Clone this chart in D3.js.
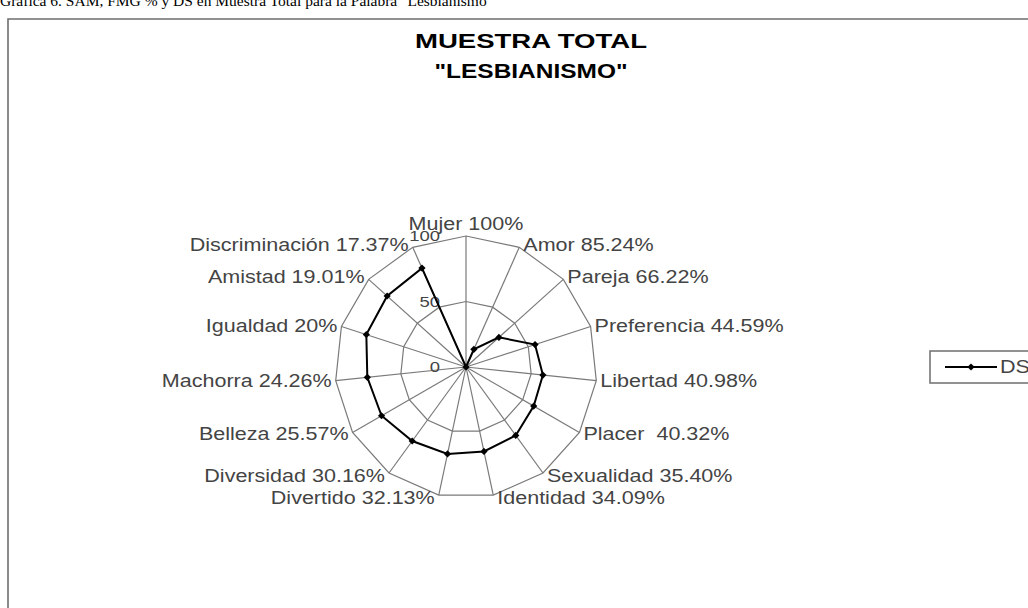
<!DOCTYPE html>
<html>
<head>
<meta charset="utf-8">
<script src="https://cdn.jsdelivr.net/npm/d3@7"></script>
<style>
  html, body { margin: 0; padding: 0; background: #fff; }
  svg { display: block; }
</style>
</head>
<body>
<svg id="chart"></svg>
<script>
// categorias y FMG % (etiquetas), DS (serie dibujada)
const words = ["Mujer", "Amor", "Pareja", "Preferencia", "Libertad", "Placer ", "Sexualidad",
  "Identidad", "Divertido", "Diversidad", "Belleza", "Machorra", "Igualdad", "Amistad", "Discriminación"];
const fmgLabels = ["100%", "85.24%", "66.22%", "44.59%", "40.98%", "40.32%", "35.40%",
  "34.09%", "32.13%", "30.16%", "25.57%", "24.26%", "20%", "19.01%", "17.37%"];
const dsValues = [0, 14.76, 33.78, 55.41, 59.02, 59.68, 64.6, 65.91, 67.87, 69.84, 74.43, 75.74, 80, 80.99, 82.63];
const ticks = [0, 50, 100];

const width = 1028, height = 608;
const cx = 466, cy = 367, R = 131;
const STRETCH = 1.23;

const svg = d3.select("#chart").attr("width", width).attr("height", height);

// caption cut off at the top of the page
svg.append("text")
  .attr("x", 0).attr("y", 6)
  .style("font-family", "'Liberation Serif', 'Times New Roman', serif")
  .style("font-size", "15.5px")
  .attr("fill", "#000")
  .text('Gráfica 6. SAM, FMG % y DS en Muestra Total para la Palabra "Lesbianismo"');

// chart frame
svg.append("path")
  .attr("d", `M8,${height} V19 H${width}`)
  .attr("fill", "none")
  .attr("stroke", "#6e6e6e")
  .attr("stroke-width", 1.6);

// title
const titleLines = [["MUESTRA TOTAL", 48, 232], ['"LESBIANISMO"', 78, 193]];
titleLines.forEach(function (t) {
  svg.append("text")
    .attr("x", 531).attr("y", t[1])
    .attr("text-anchor", "middle")
    .attr("textLength", t[2])
    .attr("lengthAdjust", "spacingAndGlyphs")
    .style("font-family", "'Liberation Sans', Arial, sans-serif")
    .style("font-size", "21px")
    .style("font-weight", "bold")
    .attr("fill", "#000")
    .text(t[0]);
});

const r = d3.scaleLinear().domain([0, 100]).range([0, R]);
const angle = d3.scaleLinear().domain([0, words.length]).range([0, 2 * Math.PI]);

function pt(i, v) {
  const a = angle(i);
  return [cx + r(v) * Math.sin(a), cy - r(v) * Math.cos(a)];
}

function stretchText(sel) {
  sel.each(function () {
    const w = this.getComputedTextLength();
    d3.select(this).attr("textLength", w * STRETCH).attr("lengthAdjust", "spacingAndGlyphs");
  });
}

const grid = svg.append("g");

// rings
ticks.filter(t => t > 0).forEach(function (t) {
  const pts = words.map((w, i) => pt(i, t));
  grid.append("polygon")
    .attr("points", pts.map(p => p.join(",")).join(" "))
    .attr("fill", "none")
    .attr("stroke", "#7a7a7a")
    .attr("stroke-width", 1.2);
});

// spokes
grid.selectAll("line.spoke")
  .data(words)
  .join("line")
  .attr("class", "spoke")
  .attr("x1", cx).attr("y1", cy)
  .attr("x2", (d, i) => pt(i, 100)[0])
  .attr("y2", (d, i) => pt(i, 100)[1])
  .attr("stroke", "#7a7a7a")
  .attr("stroke-width", 1.2);

// tick labels along the first axis
svg.selectAll("text.tick")
  .data(ticks)
  .join("text")
  .attr("class", "tick")
  .attr("x", cx - 26)
  .attr("y", d => cy - r(d))
  .attr("dy", "0.35em")
  .attr("text-anchor", "end")
  .style("font-family", "'Liberation Sans', Arial, sans-serif")
  .style("font-size", "15px")
  .attr("fill", "#444")
  .text(d => d)
  .call(stretchText);

// category labels
svg.selectAll("text.cat")
  .data(words)
  .join("text")
  .attr("class", "cat")
  .attr("x", function (d, i) {
    const a = angle(i);
    const p = pt(i, 100);
    if (i === 0) return p[0];
    return p[0] + (Math.sin(a) > 0 ? 4 : -4);
  })
  .attr("y", function (d, i) {
    const a = angle(i);
    const p = pt(i, 100);
    if (i === 0) return p[1] - 12;
    return p[1] - 3 * Math.cos(a);
  })
  .attr("dy", "0.35em")
  .attr("text-anchor", function (d, i) {
    if (i === 0) return "middle";
    return Math.sin(angle(i)) > 0 ? "start" : "end";
  })
  .style("font-family", "'Liberation Sans', Arial, sans-serif")
  .style("font-size", "17.5px")
  .style("white-space", "pre")
  .attr("fill", "#444")
  .text((d, i) => d + " " + fmgLabels[i])
  .call(stretchText);

// DS series
const line = d3.line().curve(d3.curveLinearClosed);
const seriesPts = dsValues.map((v, i) => pt(i, v));

svg.append("path")
  .attr("d", line(seriesPts))
  .attr("fill", "none")
  .attr("stroke", "#000")
  .attr("stroke-width", 2);

// excel-like diamond marker: square turned 45 degrees
const marker = d3.symbol().type(d3.symbolSquare).size(26);
svg.selectAll("path.mark")
  .data(seriesPts)
  .join("path")
  .attr("class", "mark")
  .attr("d", marker)
  .attr("transform", d => `translate(${d[0]},${d[1]}) rotate(45)`)
  .attr("fill", "#000");

// legend
const lg = svg.append("g").attr("transform", "translate(930,351)");
lg.append("rect")
  .attr("x", 0).attr("y", 0)
  .attr("width", 120).attr("height", 32)
  .attr("fill", "#fff")
  .attr("stroke", "#6e6e6e")
  .attr("stroke-width", 1.5);
lg.append("line")
  .attr("x1", 15).attr("x2", 67)
  .attr("y1", 16).attr("y2", 16)
  .attr("stroke", "#000").attr("stroke-width", 2);
lg.append("path")
  .attr("d", marker)
  .attr("transform", "translate(41,16) rotate(45)")
  .attr("fill", "#000");
lg.append("text")
  .attr("x", 70).attr("y", 16)
  .attr("dy", "0.35em")
  .style("font-family", "'Liberation Sans', Arial, sans-serif")
  .style("font-size", "17.5px")
  .attr("fill", "#444")
  .text("DS")
  .call(stretchText);
</script>
</body>
</html>
